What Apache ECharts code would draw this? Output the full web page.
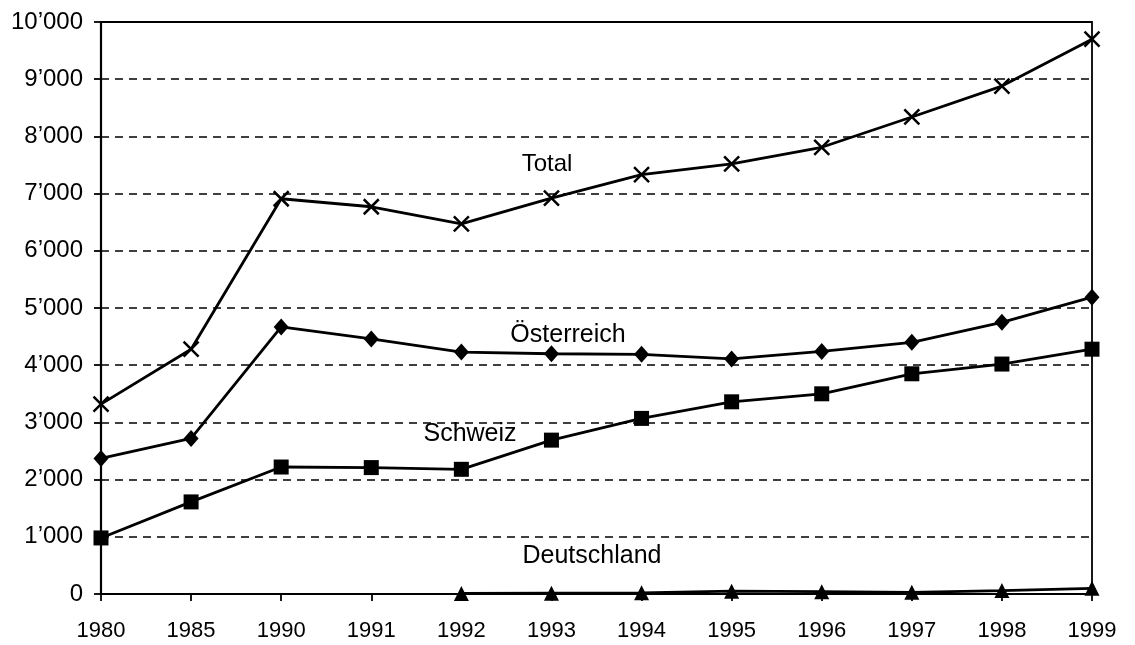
<!DOCTYPE html>
<html><head><meta charset="utf-8">
<script src="https://cdn.jsdelivr.net/npm/echarts@6/dist/echarts.min.js"></script>
<style>html,body{margin:0;padding:0;background:#fff}#c{width:1135px;height:645px}</style>
</head><body><div id="c"></div>
<script>
const years = ['1980','1985','1990','1991','1992','1993','1994','1995','1996','1997','1998','1999'];
const total = [3320, 4280, 6910, 6770, 6470, 6920, 7330, 7520, 7810, 8340, 8880, 9700];
const oesterreich = [2370, 2720, 4670, 4460, 4230, 4200, 4190, 4110, 4240, 4400, 4750, 5190];
const schweiz = [980, 1610, 2220, 2210, 2180, 2690, 3070, 3360, 3500, 3850, 4020, 4280];
const deutschland = [null, null, null, null, 10, 15, 20, 50, 40, 30, 60, 100];
const yTicks = [0, 1000, 2000, 3000, 4000, 5000, 6000, 7000, 8000, 9000, 10000];
const seriesLabels = ['Total', 'Österreich', 'Schweiz', 'Deutschland'];

const font = '"Liberation Sans", Arial, sans-serif';
function fmt(v){ const s = String(v); return s.length > 3 ? s.slice(0, -3) + '’' + s.slice(-3) : s; }

const chart = echarts.init(document.getElementById('c'), null, {renderer:'canvas'});
const base = {type:'line', showSymbol:true, symbol:'none', lineStyle:{color:'#000', width:2.8}, itemStyle:{color:'#000'}, animation:false, z:3};
chart.setOption({
  backgroundColor:'#fff',
  animation:false,
  grid:{left:101, right:43, top:22, bottom:51, show:true, borderColor:'#000', borderWidth:1.8, backgroundColor:'transparent'},
  xAxis:{type:'category', data:years, boundaryGap:false,
    axisLine:{lineStyle:{color:'#000', width:2.2}},
    axisTick:{show:true, alignWithLabel:true, length:7, lineStyle:{color:'#000', width:1.8}},
    axisLabel:{color:'#000', fontFamily:font, fontSize:22, margin:26},
    splitLine:{show:false}},
  yAxis:{type:'value', min:yTicks[0], max:yTicks[yTicks.length-1], interval:1000,
    axisLine:{show:true, lineStyle:{color:'#000', width:2.2}},
    axisTick:{show:true, length:7, lineStyle:{color:'#000', width:1.8}},
    axisLabel:{color:'#000', fontFamily:font, fontSize:24, margin:18, formatter:fmt},
    splitLine:{show:true, lineStyle:{color:'#000', width:1.5, type:[8,6]}}},
  series:[
    Object.assign({}, base, {name:seriesLabels[0], data:total, symbol:'path://M0,0L10,10M10,0L0,10', symbolSize:15,
      itemStyle:{color:'none', borderColor:'#000', borderWidth:2.5}}),
    Object.assign({}, base, {name:seriesLabels[1], data:oesterreich, symbol:'diamond', symbolSize:[15,17]}),
    Object.assign({}, base, {name:seriesLabels[2], data:schweiz, symbol:'rect', symbolSize:15}),
    Object.assign({}, base, {name:seriesLabels[3], data:deutschland, symbol:'triangle', symbolSize:[15,15], connectNulls:false})
  ],
  graphic:[
    {type:'text', x:547, y:164, style:{text:seriesLabels[0], font:'24px '+font, fill:'#000', align:'center', verticalAlign:'middle'}},
    {type:'text', x:568, y:335, style:{text:seriesLabels[1], font:'25px '+font, fill:'#000', align:'center', verticalAlign:'middle'}},
    {type:'text', x:470, y:434, style:{text:seriesLabels[2], font:'25px '+font, fill:'#000', align:'center', verticalAlign:'middle'}},
    {type:'text', x:592, y:556, style:{text:seriesLabels[3], font:'25px '+font, fill:'#000', align:'center', verticalAlign:'middle'}}
  ]
});
</script></body></html>
